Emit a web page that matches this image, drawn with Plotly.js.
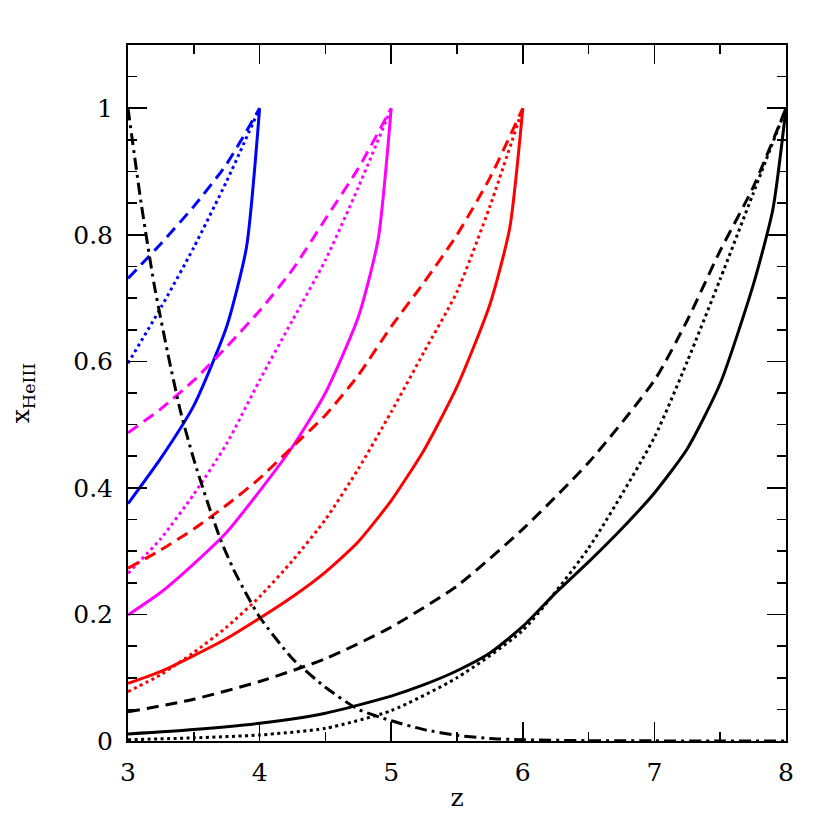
<!DOCTYPE html>
<html>
<head>
<meta charset="utf-8">
<script src="https://cdn.plot.ly/plotly-3.0.1.min.js"></script>
<style>body{margin:0;background:#fff}</style>
</head>
<body>
<div id="plot" style="width:830px;height:830px"></div>
<script>
/* redshift grids and x_HeIII values */
var zBlue = [3, 3.25, 3.5, 3.75, 3.9, 4];
var blueSolid = [0.375, 0.447, 0.53, 0.655, 0.78, 1.0];
var zBlueB = [3, 3.25, 3.5, 3.75, 4];
var blueDash = [0.731, 0.786, 0.845, 0.912, 1.0];
var blueDot = [0.597, 0.685, 0.78, 0.885, 1.0];

var zMag = [3, 3.25, 3.5, 3.75, 4, 4.25, 4.5, 4.75, 4.9, 5];
var magSolid = [0.199, 0.235, 0.28, 0.33, 0.395, 0.465, 0.55, 0.67, 0.792, 1.0];
var zMagB = [3, 3.25, 3.5, 3.75, 4, 4.25, 4.5, 4.75, 5];
var magDash = [0.487, 0.525, 0.57, 0.623, 0.68, 0.745, 0.825, 0.905, 1.0];
var magDot = [0.265, 0.32, 0.39, 0.47, 0.57, 0.665, 0.76, 0.875, 1.0];

var zRed = [3, 3.25, 3.5, 3.75, 4, 4.25, 4.5, 4.75, 5, 5.25, 5.5, 5.75, 5.9, 6];
var redSolid = [0.091, 0.11, 0.135, 0.162, 0.194, 0.228, 0.267, 0.315, 0.38, 0.46, 0.56, 0.69, 0.81, 1.0];
var zRedB = [3, 3.25, 3.5, 3.75, 4, 4.25, 4.5, 4.75, 5, 5.25, 5.5, 5.75, 6];
var redDash = [0.273, 0.302, 0.335, 0.373, 0.415, 0.465, 0.515, 0.578, 0.655, 0.725, 0.8, 0.89, 1.0];
var redDot = [0.078, 0.105, 0.14, 0.18, 0.228, 0.285, 0.35, 0.43, 0.52, 0.615, 0.71, 0.845, 1.0];

var zBlack = [3, 3.5, 4, 4.5, 5, 5.25, 5.5, 5.75, 6, 6.25, 6.5, 6.75, 7, 7.25, 7.5, 7.75, 7.9, 8];
var blackSolid = [0.011, 0.018, 0.028, 0.044, 0.071, 0.089, 0.111, 0.139, 0.181, 0.234, 0.283, 0.335, 0.392, 0.462, 0.565, 0.72, 0.84, 1.0];
var zBlackB = [3, 3.5, 4, 4.5, 5, 5.5, 6, 6.5, 7, 7.25, 7.5, 7.75, 8];
var blackDash = [0.046, 0.066, 0.094, 0.13, 0.18, 0.245, 0.335, 0.44, 0.57, 0.665, 0.775, 0.875, 1.0];
var blackDot = [0.002, 0.005, 0.0095, 0.02, 0.048, 0.1, 0.175, 0.305, 0.48, 0.6, 0.73, 0.865, 1.0];

var zDecay = [3, 3.1, 3.2, 3.3, 3.4, 3.5, 3.6, 3.7, 3.8, 3.9, 4, 4.25, 4.5, 4.75, 5, 5.25, 5.5, 5.75, 6, 6.5, 7, 7.5, 8];
var decay = [1.0, 0.85, 0.72, 0.615, 0.52, 0.445, 0.38, 0.32, 0.272, 0.232, 0.196, 0.13, 0.085, 0.05, 0.032, 0.018, 0.009, 0.004, 0.002, 0.0005, 0.0002, 0.0001, 0.0];

var DASH = '12px,7px', DOT = '3px,3.5px', DASHDOT = '12px,5px,3px,5px';
var W = 3;

function tr(x, y, color, dash) {
  return {x: x, y: y, type: 'scatter', mode: 'lines',
    line: {color: color, width: W, dash: dash, shape: 'spline', smoothing: 0.6},
    hoverinfo: 'skip'};
}

var data = [
  tr(zBlue, blueSolid, '#0000ff', 'solid'),
  tr(zBlueB, blueDash, '#0000ff', DASH),
  tr(zBlueB, blueDot, '#0000ff', DOT),
  tr(zMag, magSolid, '#ff00ff', 'solid'),
  tr(zMagB, magDash, '#ff00ff', DASH),
  tr(zMagB, magDot, '#ff00ff', DOT),
  tr(zRed, redSolid, '#ff0000', 'solid'),
  tr(zRedB, redDash, '#ff0000', DASH),
  tr(zRedB, redDot, '#ff0000', DOT),
  tr(zBlack, blackSolid, '#000000', 'solid'),
  tr(zBlackB, blackDash, '#000000', DASH),
  tr(zBlackB, blackDot, '#000000', DOT),
  tr(zDecay, decay, '#000000', DASHDOT)
];

var font = {family: 'DejaVu Serif, serif', size: 25, color: '#000'};

var layout = {
  width: 830, height: 830,
  margin: {l: 128, r: 44, t: 45, b: 89},
  showlegend: false,
  paper_bgcolor: '#fff', plot_bgcolor: '#fff',
  font: font,
  xaxis: {
    range: [3, 8], dtick: 1, tick0: 3,
    showgrid: false, zeroline: false,
    showline: true, linecolor: '#000', linewidth: 2, mirror: 'ticks',
    ticks: 'inside', ticklen: 19, tickwidth: 1.6, tickcolor: '#000',
    minor: {dtick: 0.5, ticks: 'inside', ticklen: 9, tickwidth: 1.6, tickcolor: '#000', showgrid: false},
    tickfont: font, ticklabelstandoff: 8,
    title: {text: 'z', font: font, standoff: 2}
  },
  yaxis: {
    range: [0, 1.1], dtick: 0.2, tick0: 0,
    showgrid: false, zeroline: false,
    showline: true, linecolor: '#000', linewidth: 2, mirror: 'ticks',
    ticks: 'inside', ticklen: 19, tickwidth: 1.6, tickcolor: '#000',
    minor: {dtick: 0.05, ticks: 'inside', ticklen: 9, tickwidth: 1.6, tickcolor: '#000', showgrid: false},
    tickfont: font, ticklabelstandoff: 8,
    title: {text: 'x<sub>HeIII</sub>', font: font, standoff: 36}
  }
};

Plotly.newPlot('plot', data, layout, {staticPlot: true});
</script>
</body>
</html>
